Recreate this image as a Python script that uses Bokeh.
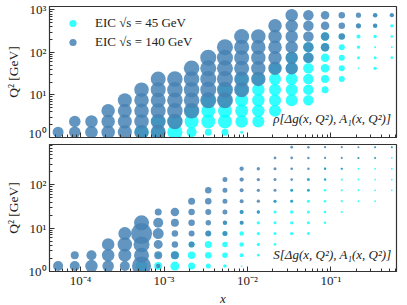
from bokeh.plotting import figure
from bokeh.models import (ColumnDataSource, Range1d, CustomJSTickFormatter, Legend,
                          LegendItem, Label)
from bokeh.layouts import column
from bokeh.embed import file_html
from bokeh.resources import INLINE

# ---------------- data ----------------
X_BINS = [5.37e-05, 8.51e-05, 1.349e-04, 2.138e-04, 3.388e-04, 5.37e-04, 8.51e-04,
          1.349e-03, 2.138e-03, 3.388e-03, 5.37e-03, 8.51e-03, 0.01349, 0.02138,
          0.03388, 0.0537, 0.0851, 0.1349, 0.2138, 0.3388, 0.537]
Q2_BINS = [1.33, 2.37, 4.22, 7.50, 13.3, 23.7, 42.2, 75.0, 133.0, 237.0, 422.0, 750.0]

# row coverage per x column (index into Q2_BINS)
EIC140_ROW_LO = [0, 0, 0, 0, 0, 0, 0, 1, 2, 3, 3, 4, 5, 6, 6, 7, 8, 9, 10, 10, 11]
EIC140_ROW_HI = [0, 1, 1, 2, 3, 4, 5, 5, 6, 7, 8, 9, 9, 10, 11, 11, 11, 11, 11, 11, 11]
EIC45_FIRST_COL = 5
EIC45_ROW_LO = [0, 0, 0, 0, 0, 0, 0, 1, 2, 3, 3, 4, 5, 6, 6, 7]
EIC45_ROW_HI = [0, 1, 1, 2, 3, 4, 5, 5, 6, 7, 8, 9, 9, 10, 11, 11]

# bubble diameters (px), bottom row -> top row, per column
RHO_140 = [[11], [11.5, 11.5], [12.5, 12.5], [13.5, 13.5, 13.5], [14, 14, 14, 14],
           [14.5] * 5, [15] * 6, [15.5] * 5, [15.5] * 5, [16] * 5, [16] * 6, [15] * 6,
           [14.5] * 5, [13.5] * 5, [12.5] * 6, [10.5] * 5, [8.5] * 4, [6.5] * 3,
           [5.2] * 2, [4.6] * 2, [4.3]]
RHO_45 = [[14], [14, 14], [15, 14.5], [10, 14, 14], [7, 14, 14, 14],
          [7, 14, 14, 14, 14], [3, 12.5, 13, 13, 13, 13], [12, 12.5, 12.5, 12.5, 12.5],
          [12] * 5, [12] * 5, [10.5] * 6, [7, 8, 8.5, 8.5, 8.5, 8.5], [6] * 5,
          [1.8, 3, 3.4, 4, 4], [3.4, 3, 2, 3.4, 4, 4], [2.7, 1.8, 2.7, 3.3, 3.3]]
S_140 = [[10], [10, 8], [12.5, 10], [11.5, 12.5, 12.5], [10, 13, 14.5, 13],
         [19, 15, 16, 21, 15], [4.5, 8, 9, 11, 10, 7], [8, 6.5, 6.5, 8, 8.5],
         [6, 6, 6.5, 6.5, 7], [6, 5.5, 6, 6.5, 6.5], [5, 4.5, 5, 5, 5, 5],
         [4, 4, 4, 4, 4.3, 4.3], [3.3] * 5, [3, 3, 3, 3, 2.7], [2.7] * 6,
         [2.5] * 5, [2.3] * 4, [2.2] * 3, [2] * 2, [2] * 2, [2]]
S_45 = [[12], [8, 5], [9, 8], [7, 7.5, 6], [5, 6.5, 7, 5.5], [3.5, 5.5, 5.5, 5, 4],
        [1.7, 4, 4.5, 4.5, 4, 4], [2.7, 3.3, 3.3, 3.3, 3.3], [2.7, 3, 3, 3, 3],
        [3.3, 3.3, 3.3, 3, 3], [3] * 6, [2.5] * 6, [2.2] * 5, [2] * 5, [1.8] * 6,
        [1.8] * 5]

SERIES_LABELS = ["EIC \u221As = 45 GeV", "EIC \u221As = 140 GeV"]
PANEL_TEXTS = ["\u03c1[\u0394g(x, Q\u00b2), A\u2081(x, Q\u00b2)]",
               "S[\u0394g(x, Q\u00b2), A\u2081(x, Q\u00b2)]"]

CYAN = "#00FFFF"
BLUE = "#4682B4"
FONT = "Liberation Serif"
LOG_XMIN, LOG_XMAX = -4.373, -0.214


def bubbles(sizes, lo, hi, first_col):
    xs, ys, ss = [], [], []
    for i, col in enumerate(sizes):
        k = first_col + i
        rows = list(range(lo[i], hi[i] + 1))
        for j, s in zip(rows, col):
            xs.append(X_BINS[k])
            ys.append(Q2_BINS[j])
            ss.append(s)
    return ColumnDataSource(dict(x=xs, y=ys, size=ss))


SUP = """
const e = Math.round(Math.log10(tick));
const m = {'-':'\u207b','0':'\u2070','1':'\u00b9','2':'\u00b2','3':'\u00b3','4':'\u2074',
           '5':'\u2075','6':'\u2076','7':'\u2077','8':'\u2078','9':'\u2079'};
return '10' + String(e).split('').map(c => m[c]).join('');
"""


def make_fig(y_end, frame_h, border_top, border_bottom, show_x):
    p = figure(x_axis_type="log", y_axis_type="log",
               x_range=Range1d(10 ** LOG_XMIN, 10 ** LOG_XMAX),
               y_range=Range1d(10 ** -0.002, y_end),
               frame_width=347, frame_height=frame_h,
               min_border_left=49, min_border_right=11, min_border_top=border_top,
               min_border_bottom=border_bottom,
               output_backend="svg", toolbar_location=None)
    p.background_fill_color = "white"
    p.outline_line_color = "#333333"
    p.outline_line_width = 1.2
    p.xgrid.visible = False
    p.ygrid.visible = False
    for ax in list(p.xaxis) + list(p.yaxis):
        ax.major_tick_in = 5
        ax.major_tick_out = 0
        ax.minor_tick_in = 3
        ax.minor_tick_out = 0
        ax.axis_line_color = "#333333"
        ax.major_tick_line_color = "#333333"
        ax.minor_tick_line_color = "#333333"
        ax.formatter = CustomJSTickFormatter(code=SUP)
        ax.major_label_text_font = FONT
        ax.major_label_text_font_size = "13px"
        ax.major_label_text_color = "#222222"
        ax.axis_label_text_font = FONT
        ax.axis_label_text_font_size = "13.5px"
        ax.axis_label_text_font_style = "normal"
        ax.axis_label_text_color = "#222222"
    p.yaxis.major_label_standoff = 3
    p.yaxis.axis_label_standoff = 5
    p.yaxis.axis_label = "Q\u00b2 [GeV]"
    if show_x:
        p.xaxis.major_label_standoff = 1
        p.xaxis.axis_label_standoff = 0
        p.xaxis.axis_label = "x"
        p.xaxis.axis_label_text_font_size = "13px"
        p.xaxis.axis_label_text_font_style = "italic"
    else:
        p.xaxis.formatter = CustomJSTickFormatter(code="return '';")
        p.xaxis.major_label_standoff = 0
    return p


def add_panel(p, s45, s140, text, text_y):
    src45 = bubbles(s45, EIC45_ROW_LO, EIC45_ROW_HI, EIC45_FIRST_COL)
    src140 = bubbles(s140, EIC140_ROW_LO, EIC140_ROW_HI, 0)
    r45 = p.scatter("x", "y", size="size", source=src45, fill_color=CYAN,
                    fill_alpha=0.8, line_color=None)
    r140 = p.scatter("x", "y", size="size", source=src140, fill_color=BLUE,
                     fill_alpha=0.85, line_color=None)
    lx = 10 ** (LOG_XMIN + 0.645 * (LOG_XMAX - LOG_XMIN))
    p.add_layout(Label(x=lx, y=text_y, text=text, text_font=FONT,
                       text_font_size="13px", text_font_style="italic",
                       text_color="#222222", text_baseline="middle", text_align="left"))
    return r45, r140


p1 = make_fig(10 ** 3.08, 131, 6, 3, False)
r45, r140 = add_panel(p1, RHO_45, RHO_140, PANEL_TEXTS[0], 10 ** 0.45)

legend = Legend(items=[LegendItem(label=SERIES_LABELS[0], renderers=[r45], index=0),
                       LegendItem(label=SERIES_LABELS[1], renderers=[r140], index=0)],
                location="top_left", margin=0, padding=8, glyph_width=31,
                glyph_height=18, spacing=1, label_standoff=7,
                background_fill_alpha=0, border_line_alpha=0,
                label_text_font=FONT, label_text_font_size="13px",
                label_text_color="#222222")
p1.add_layout(legend)

p2 = make_fig(10 ** 2.936, 127, 4, 30, True)
add_panel(p2, S_45, S_140, PANEL_TEXTS[1], 10 ** 0.40)

layout = column(p1, p2, spacing=0)
open("out.html", "w").write(file_html(layout, INLINE))
